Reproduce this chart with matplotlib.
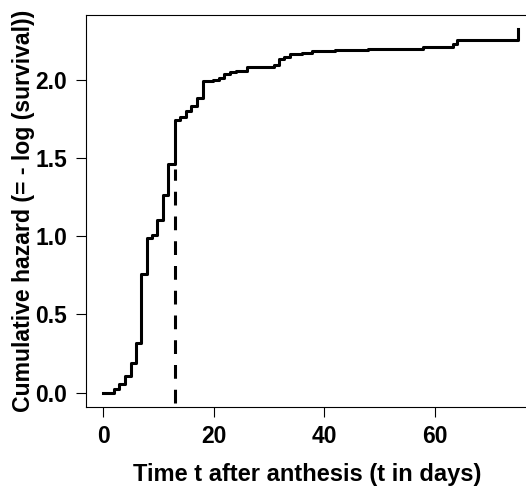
import matplotlib
matplotlib.use("Agg")
import matplotlib.pyplot as plt

plt.rcParams["font.family"] = ["Liberation Sans", "DejaVu Sans"]
plt.rcParams["font.weight"] = "bold"

# cumulative hazard steps (days after anthesis)
times = [0, 1.9, 2.9, 4.0, 5.0, 5.9, 6.9, 7.9, 8.8, 9.8, 10.9, 11.8, 13.0,
         13.9, 15.0, 15.9, 17.0, 18.0, 19.9, 21.0, 21.9, 22.9, 24.0, 26.0,
         31.0, 31.9, 32.7, 33.9, 35.9, 37.8, 42.0, 48.0, 57.9, 63.3, 64.0, 75.1]
hazard = [0, 0.022, 0.056, 0.11, 0.19, 0.32, 0.76, 0.99, 1.01, 1.10, 1.26,
          1.46, 1.74, 1.76, 1.80, 1.83, 1.88, 1.99, 2.00, 2.01, 2.035, 2.05,
          2.056, 2.08, 2.09, 2.13, 2.145, 2.16, 2.17, 2.18, 2.19, 2.197, 2.21,
          2.23, 2.25, 2.32]

# dashed marker line
median_t = 13.0
median_y = [-0.064, 1.43]

xticks = [0, 20, 40, 60]
yticks = [0.0, 0.5, 1.0, 1.5, 2.0]

fig = plt.figure(figsize=(5.26, 4.87), dpi=100)
ax = fig.add_axes([86 / 526, 1 - 407 / 487, (529 - 86) / 526, (407 - 15) / 487])

ax.step(times, hazard, where="post", color="black", lw=2.2)
ax.plot([median_t, median_t], median_y, color="black", lw=2.2, dashes=(4.5, 3.6))

ax.set_xlim(-3.13, 77.1)
ax.set_ylim(-0.091, 2.412)
ax.set_xticks(xticks)
ax.set_xticklabels([str(t) for t in xticks])
ax.set_yticks(yticks)
ax.set_yticklabels([f"{t:.1f}" for t in yticks])

for s in ax.spines.values():
    s.set_linewidth(0.8)
ax.tick_params(axis="both", length=7, width=0.8, labelsize=16.5)
ax.tick_params(axis="x", pad=6)
ax.tick_params(axis="y", pad=6.5)

ax.set_xlabel("Time t after anthesis (t in days)", fontsize=17, fontweight="bold", labelpad=11)
ax.set_ylabel("Cumulative hazard (= - log (survival))", fontsize=16.6, fontweight="bold", labelpad=0)

fig.savefig("out.png", dpi=100)
